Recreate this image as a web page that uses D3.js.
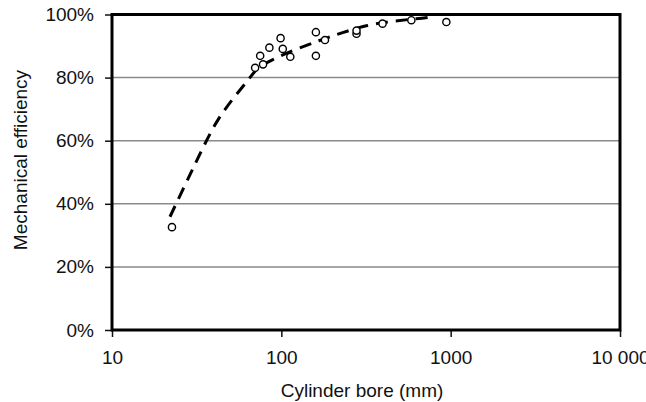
<!DOCTYPE html>
<html>
<head>
<meta charset="utf-8">
<script src="https://cdn.jsdelivr.net/npm/d3@7"></script>
<style>
    body { margin: 0; background: #fff; }
    text { font-family: "Liberation Sans", Arial, sans-serif; fill: #111; }
</style>
</head>
<body>
<svg id="chart" width="646" height="402"></svg>
<script>
// measured points
const boreMm = [22.6, 70, 78, 75, 85, 99, 102, 113, 160, 181, 160, 278, 278, 396, 586, 943];
const efficiency = [0.326, 0.831, 0.842, 0.869, 0.895, 0.925, 0.891, 0.866, 0.944, 0.919, 0.869, 0.939, 0.949, 0.971, 0.982, 0.976];

// dashed trend line
const curveBore = [22, 26.4, 30.9, 36.2, 42.4, 52.5, 65.2, 71.4, 87.5, 120, 169, 221, 325, 457, 641, 760];
const curveEff = [0.359, 0.449, 0.525, 0.602, 0.671, 0.738, 0.798, 0.83, 0.856, 0.889, 0.918, 0.94, 0.968, 0.979, 0.987, 0.992];

const xTicks = [10, 100, 1000, 10000];
const xTickLabels = ['10', '100', '1000', '10 000'];
const yTicks = [0, 0.2, 0.4, 0.6, 0.8, 1];
const gridTicks = [0.2, 0.4, 0.6, 0.8];

const margin = {top: 14.5, right: 26, bottom: 72, left: 112};
let svg = d3.select('#chart');
const width = +svg.attr('width') - margin.left - margin.right,
    height = +svg.attr('height') - margin.top - margin.bottom;

let g = svg.append('g').attr('transform', `translate(${margin.left},${margin.top})`);

let x = d3.scaleLog().domain([10, 10000]).range([0, width]);
let y = d3.scaleLinear().domain([0, 1]).range([height, 0]);

//grid
g.selectAll('.grid')
    .data(gridTicks)
    .enter().append('line')
    .attr('class', 'grid')
    .attr('x1', 0).attr('x2', width)
    .attr('y1', d => y(d)).attr('y2', d => y(d))
    .attr('stroke', '#8a8a8a')
    .attr('stroke-width', 1.5);

//axes
let xAxis = g.append('g')
    .attr('transform', `translate(0,${height})`)
    .call(d3.axisBottom(x).tickValues(xTicks).tickFormat((d, i) => xTickLabels[i]).tickSize(7).tickPadding(14));
xAxis.select('.domain').remove();
xAxis.selectAll('line').attr('stroke', '#111').attr('stroke-width', 1.5);
xAxis.selectAll('text').attr('font-size', 19).attr('fill', '#111');

let yAxis = g.append('g')
    .call(d3.axisLeft(y).tickValues(yTicks).tickFormat(d3.format('.0%')).tickSize(7).tickPadding(11));
yAxis.select('.domain').remove();
yAxis.selectAll('line').attr('stroke', '#111').attr('stroke-width', 1.5);
yAxis.selectAll('text').attr('font-size', 19).attr('fill', '#111');

//frame
g.append('rect')
    .attr('x', 0).attr('y', 0)
    .attr('width', width).attr('height', height)
    .attr('fill', 'none')
    .attr('stroke', '#000')
    .attr('stroke-width', 3);

//trend line
let line = d3.line()
    .x(i => x(curveBore[i]))
    .y(i => y(curveEff[i]))
    .curve(d3.curveBasis);

g.append('path')
    .datum(d3.range(curveBore.length))
    .attr('d', line)
    .attr('fill', 'none')
    .attr('stroke', '#000')
    .attr('stroke-width', 3)
    .attr('stroke-dasharray', '12,8');

//points
g.selectAll('.pt')
    .data(d3.range(boreMm.length))
    .enter().append('circle')
    .attr('class', 'pt')
    .attr('cx', i => x(boreMm[i]))
    .attr('cy', i => y(efficiency[i]))
    .attr('r', 3.6)
    .attr('fill', '#fff')
    .attr('stroke', '#000')
    .attr('stroke-width', 1.4);

//labels
svg.append('text')
    .attr('x', margin.left + x(1000 / Math.sqrt(10)) - 4)
    .attr('y', 397)
    .attr('text-anchor', 'middle')
    .attr('font-size', 19)
    .text('Cylinder bore (mm)');

svg.append('text')
    .attr('transform', 'translate(27,160) rotate(-90)')
    .attr('text-anchor', 'middle')
    .attr('font-size', 19)
    .text('Mechanical efficiency');
</script>
</body>
</html>
